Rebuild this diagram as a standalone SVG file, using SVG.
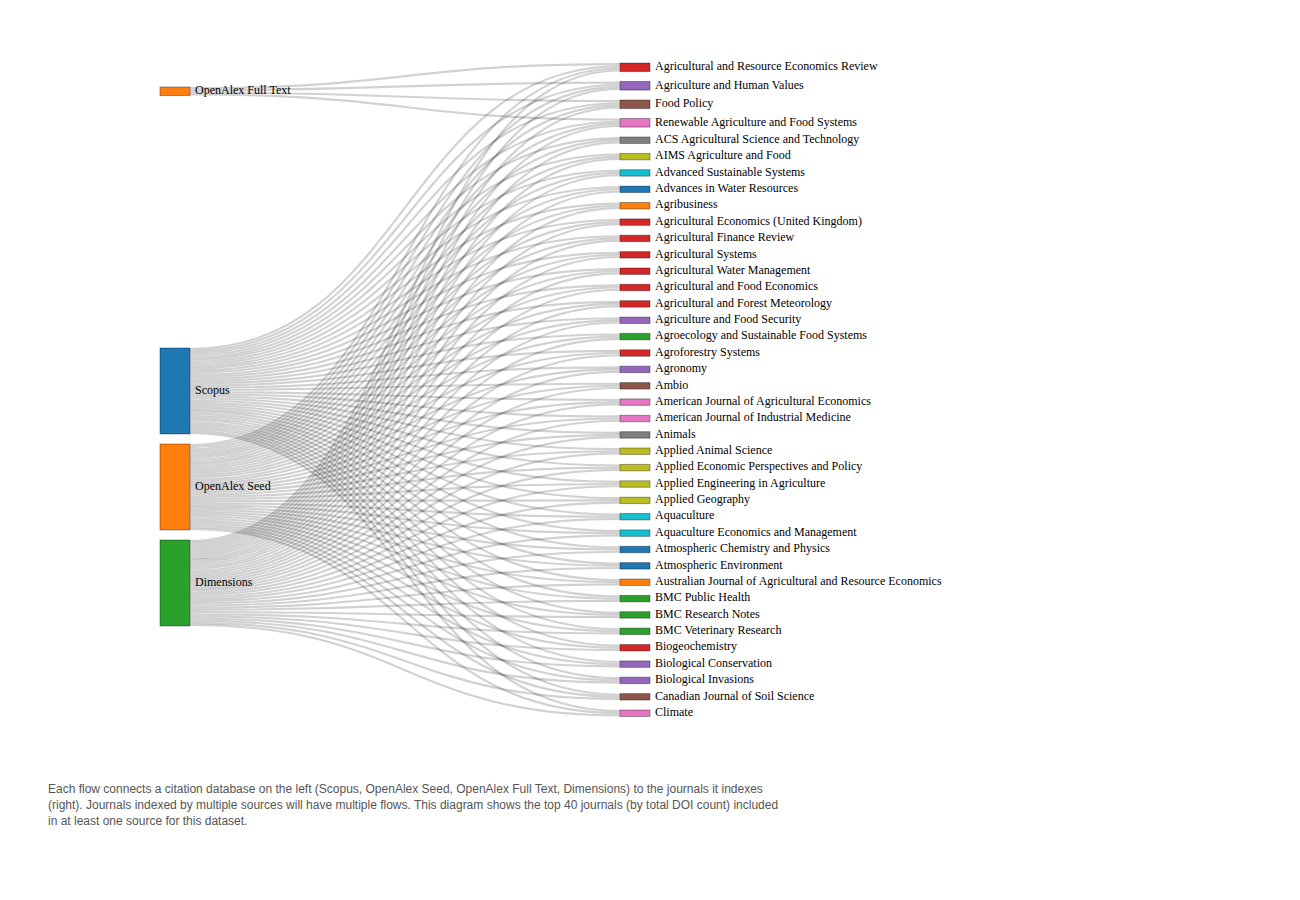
<svg xmlns="http://www.w3.org/2000/svg" width="1300" height="900" viewBox="0 0 1300 900">
<style>
.l{fill:none;stroke:#000;stroke-opacity:.18;stroke-width:2.15}
.n rect{stroke:#000;stroke-opacity:.35;stroke-width:1}
.n text{font-family:"Liberation Serif",serif;font-size:12px;fill:#000;dominant-baseline:middle}
.cap{font-family:"Liberation Sans",Arial,sans-serif;font-size:12px;fill:#555}
.c0{fill:#d62728}.c1{fill:#9467bd}.c2{fill:#8c564b}.c3{fill:#e377c2}.c4{fill:#7f7f7f}.c5{fill:#bcbd22}.c6{fill:#17becf}.c7{fill:#1f77b4}.c8{fill:#ff7f0e}.c9{fill:#2ca02c}
</style>
<rect width="1300" height="900" fill="#fff"/>
<g id="links">
<path class="l" d="M190 88.1C405 88.1 405 64.1 620 64.1"/>
<path class="l" d="M190 90.2C405 90.2 405 82.6 620 82.6"/>
<path class="l" d="M190 92.4C405 92.4 405 101.1 620 101.1"/>
<path class="l" d="M190 94.5C405 94.5 405 119.6 620 119.6"/>
<path class="l" d="M190 349.1C405 349.1 405 66.2 620 66.2"/>
<path class="l" d="M190 351.2C405 351.2 405 84.7 620 84.7"/>
<path class="l" d="M190 353.4C405 353.4 405 103.2 620 103.2"/>
<path class="l" d="M190 355.5C405 355.5 405 121.7 620 121.7"/>
<path class="l" d="M190 357.7C405 357.7 405 138.1 620 138.1"/>
<path class="l" d="M190 359.8C405 359.8 405 154.5 620 154.5"/>
<path class="l" d="M190 362.0C405 362.0 405 170.8 620 170.8"/>
<path class="l" d="M190 364.1C405 364.1 405 187.2 620 187.2"/>
<path class="l" d="M190 366.3C405 366.3 405 203.6 620 203.6"/>
<path class="l" d="M190 368.4C405 368.4 405 220.0 620 220.0"/>
<path class="l" d="M190 370.6C405 370.6 405 236.3 620 236.3"/>
<path class="l" d="M190 372.7C405 372.7 405 252.7 620 252.7"/>
<path class="l" d="M190 374.9C405 374.9 405 269.1 620 269.1"/>
<path class="l" d="M190 377.0C405 377.0 405 285.4 620 285.4"/>
<path class="l" d="M190 379.2C405 379.2 405 301.8 620 301.8"/>
<path class="l" d="M190 381.3C405 381.3 405 318.2 620 318.2"/>
<path class="l" d="M190 383.5C405 383.5 405 334.5 620 334.5"/>
<path class="l" d="M190 385.6C405 385.6 405 350.9 620 350.9"/>
<path class="l" d="M190 387.8C405 387.8 405 367.3 620 367.3"/>
<path class="l" d="M190 389.9C405 389.9 405 383.7 620 383.7"/>
<path class="l" d="M190 392.1C405 392.1 405 400.0 620 400.0"/>
<path class="l" d="M190 394.2C405 394.2 405 416.4 620 416.4"/>
<path class="l" d="M190 396.4C405 396.4 405 432.8 620 432.8"/>
<path class="l" d="M190 398.5C405 398.5 405 449.1 620 449.1"/>
<path class="l" d="M190 400.7C405 400.7 405 465.5 620 465.5"/>
<path class="l" d="M190 402.8C405 402.8 405 481.9 620 481.9"/>
<path class="l" d="M190 405.0C405 405.0 405 498.3 620 498.3"/>
<path class="l" d="M190 407.1C405 407.1 405 514.6 620 514.6"/>
<path class="l" d="M190 409.3C405 409.3 405 531.0 620 531.0"/>
<path class="l" d="M190 411.4C405 411.4 405 547.4 620 547.4"/>
<path class="l" d="M190 413.6C405 413.6 405 563.7 620 563.7"/>
<path class="l" d="M190 415.7C405 415.7 405 580.1 620 580.1"/>
<path class="l" d="M190 417.9C405 417.9 405 596.5 620 596.5"/>
<path class="l" d="M190 420.0C405 420.0 405 612.8 620 612.8"/>
<path class="l" d="M190 422.2C405 422.2 405 629.2 620 629.2"/>
<path class="l" d="M190 424.3C405 424.3 405 645.6 620 645.6"/>
<path class="l" d="M190 426.5C405 426.5 405 662.0 620 662.0"/>
<path class="l" d="M190 428.6C405 428.6 405 678.3 620 678.3"/>
<path class="l" d="M190 430.8C405 430.8 405 694.7 620 694.7"/>
<path class="l" d="M190 432.9C405 432.9 405 711.1 620 711.1"/>
<path class="l" d="M190 445.1C405 445.1 405 68.4 620 68.4"/>
<path class="l" d="M190 447.2C405 447.2 405 86.9 620 86.9"/>
<path class="l" d="M190 449.4C405 449.4 405 105.4 620 105.4"/>
<path class="l" d="M190 451.5C405 451.5 405 123.9 620 123.9"/>
<path class="l" d="M190 453.7C405 453.7 405 140.2 620 140.2"/>
<path class="l" d="M190 455.8C405 455.8 405 156.6 620 156.6"/>
<path class="l" d="M190 458.0C405 458.0 405 172.9 620 172.9"/>
<path class="l" d="M190 460.1C405 460.1 405 189.3 620 189.3"/>
<path class="l" d="M190 462.3C405 462.3 405 205.7 620 205.7"/>
<path class="l" d="M190 464.4C405 464.4 405 222.1 620 222.1"/>
<path class="l" d="M190 466.6C405 466.6 405 238.4 620 238.4"/>
<path class="l" d="M190 468.7C405 468.7 405 254.8 620 254.8"/>
<path class="l" d="M190 470.9C405 470.9 405 271.2 620 271.2"/>
<path class="l" d="M190 473.0C405 473.0 405 287.5 620 287.5"/>
<path class="l" d="M190 475.2C405 475.2 405 303.9 620 303.9"/>
<path class="l" d="M190 477.3C405 477.3 405 320.3 620 320.3"/>
<path class="l" d="M190 479.5C405 479.5 405 336.6 620 336.6"/>
<path class="l" d="M190 481.6C405 481.6 405 353.0 620 353.0"/>
<path class="l" d="M190 483.8C405 483.8 405 369.4 620 369.4"/>
<path class="l" d="M190 485.9C405 485.9 405 385.8 620 385.8"/>
<path class="l" d="M190 488.1C405 488.1 405 402.1 620 402.1"/>
<path class="l" d="M190 490.2C405 490.2 405 418.5 620 418.5"/>
<path class="l" d="M190 492.4C405 492.4 405 434.9 620 434.9"/>
<path class="l" d="M190 494.5C405 494.5 405 451.2 620 451.2"/>
<path class="l" d="M190 496.7C405 496.7 405 467.6 620 467.6"/>
<path class="l" d="M190 498.8C405 498.8 405 484.0 620 484.0"/>
<path class="l" d="M190 501.0C405 501.0 405 500.4 620 500.4"/>
<path class="l" d="M190 503.1C405 503.1 405 516.7 620 516.7"/>
<path class="l" d="M190 505.3C405 505.3 405 533.1 620 533.1"/>
<path class="l" d="M190 507.4C405 507.4 405 549.5 620 549.5"/>
<path class="l" d="M190 509.6C405 509.6 405 565.8 620 565.8"/>
<path class="l" d="M190 511.7C405 511.7 405 582.2 620 582.2"/>
<path class="l" d="M190 513.9C405 513.9 405 598.6 620 598.6"/>
<path class="l" d="M190 516.0C405 516.0 405 614.9 620 614.9"/>
<path class="l" d="M190 518.2C405 518.2 405 631.3 620 631.3"/>
<path class="l" d="M190 520.3C405 520.3 405 647.7 620 647.7"/>
<path class="l" d="M190 522.5C405 522.5 405 664.1 620 664.1"/>
<path class="l" d="M190 524.6C405 524.6 405 680.4 620 680.4"/>
<path class="l" d="M190 526.8C405 526.8 405 696.8 620 696.8"/>
<path class="l" d="M190 528.9C405 528.9 405 713.2 620 713.2"/>
<path class="l" d="M190 541.1C405 541.1 405 70.5 620 70.5"/>
<path class="l" d="M190 543.2C405 543.2 405 89.0 620 89.0"/>
<path class="l" d="M190 545.4C405 545.4 405 107.5 620 107.5"/>
<path class="l" d="M190 547.5C405 547.5 405 126.0 620 126.0"/>
<path class="l" d="M190 549.7C405 549.7 405 142.4 620 142.4"/>
<path class="l" d="M190 551.8C405 551.8 405 158.8 620 158.8"/>
<path class="l" d="M190 554.0C405 554.0 405 175.1 620 175.1"/>
<path class="l" d="M190 556.1C405 556.1 405 191.5 620 191.5"/>
<path class="l" d="M190 558.3C405 558.3 405 207.9 620 207.9"/>
<path class="l" d="M190 560.4C405 560.4 405 224.3 620 224.3"/>
<path class="l" d="M190 562.6C405 562.6 405 240.6 620 240.6"/>
<path class="l" d="M190 564.7C405 564.7 405 257.0 620 257.0"/>
<path class="l" d="M190 566.9C405 566.9 405 273.4 620 273.4"/>
<path class="l" d="M190 569.0C405 569.0 405 289.7 620 289.7"/>
<path class="l" d="M190 571.2C405 571.2 405 306.1 620 306.1"/>
<path class="l" d="M190 573.3C405 573.3 405 322.5 620 322.5"/>
<path class="l" d="M190 575.5C405 575.5 405 338.8 620 338.8"/>
<path class="l" d="M190 577.6C405 577.6 405 355.2 620 355.2"/>
<path class="l" d="M190 579.8C405 579.8 405 371.6 620 371.6"/>
<path class="l" d="M190 581.9C405 581.9 405 388.0 620 388.0"/>
<path class="l" d="M190 584.1C405 584.1 405 404.3 620 404.3"/>
<path class="l" d="M190 586.2C405 586.2 405 420.7 620 420.7"/>
<path class="l" d="M190 588.4C405 588.4 405 437.1 620 437.1"/>
<path class="l" d="M190 590.5C405 590.5 405 453.4 620 453.4"/>
<path class="l" d="M190 592.7C405 592.7 405 469.8 620 469.8"/>
<path class="l" d="M190 594.8C405 594.8 405 486.2 620 486.2"/>
<path class="l" d="M190 597.0C405 597.0 405 502.6 620 502.6"/>
<path class="l" d="M190 599.1C405 599.1 405 518.9 620 518.9"/>
<path class="l" d="M190 601.3C405 601.3 405 535.3 620 535.3"/>
<path class="l" d="M190 603.4C405 603.4 405 551.7 620 551.7"/>
<path class="l" d="M190 605.6C405 605.6 405 568.0 620 568.0"/>
<path class="l" d="M190 607.7C405 607.7 405 584.4 620 584.4"/>
<path class="l" d="M190 609.9C405 609.9 405 600.8 620 600.8"/>
<path class="l" d="M190 612.0C405 612.0 405 617.1 620 617.1"/>
<path class="l" d="M190 614.2C405 614.2 405 633.5 620 633.5"/>
<path class="l" d="M190 616.3C405 616.3 405 649.9 620 649.9"/>
<path class="l" d="M190 618.5C405 618.5 405 666.3 620 666.3"/>
<path class="l" d="M190 620.6C405 620.6 405 682.6 620 682.6"/>
<path class="l" d="M190 622.8C405 622.8 405 699.0 620 699.0"/>
<path class="l" d="M190 624.9C405 624.9 405 715.4 620 715.4"/>
</g>
<g class="n" id="n-ft"><rect class="c8" x="160" y="87" width="30" height="8.6"/><text x="195" y="91.3">OpenAlex Full Text</text></g>
<g class="n" id="n-scopus"><rect class="c7" x="160" y="348" width="30" height="86"/><text x="195" y="391">Scopus</text></g>
<g class="n" id="n-seed"><rect class="c8" x="160" y="444" width="30" height="86"/><text x="195" y="487">OpenAlex Seed</text></g>
<g class="n" id="n-dim"><rect class="c9" x="160" y="540" width="30" height="86"/><text x="195" y="583">Dimensions</text></g>
<g class="n" id="j0"><rect class="c0" x="620" y="63" width="30" height="8.6"/><text x="655" y="67.3">Agricultural and Resource Economics Review</text></g>
<g class="n" id="j1"><rect class="c1" x="620" y="81.5" width="30" height="8.6"/><text x="655" y="85.8">Agriculture and Human Values</text></g>
<g class="n" id="j2"><rect class="c2" x="620" y="100" width="30" height="8.6"/><text x="655" y="104.3">Food Policy</text></g>
<g class="n" id="j3"><rect class="c3" x="620" y="118.5" width="30" height="8.6"/><text x="655" y="122.8">Renewable Agriculture and Food Systems</text></g>
<g class="n" id="j4"><rect class="c4" x="620" y="137.0" width="30" height="6.45"/><text x="655" y="140.2">ACS Agricultural Science and Technology</text></g>
<g class="n" id="j5"><rect class="c5" x="620" y="153.4" width="30" height="6.45"/><text x="655" y="156.6">AIMS Agriculture and Food</text></g>
<g class="n" id="j6"><rect class="c6" x="620" y="169.7" width="30" height="6.45"/><text x="655" y="172.9">Advanced Sustainable Systems</text></g>
<g class="n" id="j7"><rect class="c7" x="620" y="186.1" width="30" height="6.45"/><text x="655" y="189.3">Advances in Water Resources</text></g>
<g class="n" id="j8"><rect class="c8" x="620" y="202.5" width="30" height="6.45"/><text x="655" y="205.7">Agribusiness</text></g>
<g class="n" id="j9"><rect class="c0" x="620" y="218.9" width="30" height="6.45"/><text x="655" y="222.1">Agricultural Economics (United Kingdom)</text></g>
<g class="n" id="j10"><rect class="c0" x="620" y="235.2" width="30" height="6.45"/><text x="655" y="238.4">Agricultural Finance Review</text></g>
<g class="n" id="j11"><rect class="c0" x="620" y="251.6" width="30" height="6.45"/><text x="655" y="254.8">Agricultural Systems</text></g>
<g class="n" id="j12"><rect class="c0" x="620" y="268.0" width="30" height="6.45"/><text x="655" y="271.2">Agricultural Water Management</text></g>
<g class="n" id="j13"><rect class="c0" x="620" y="284.3" width="30" height="6.45"/><text x="655" y="287.5">Agricultural and Food Economics</text></g>
<g class="n" id="j14"><rect class="c0" x="620" y="300.7" width="30" height="6.45"/><text x="655" y="303.9">Agricultural and Forest Meteorology</text></g>
<g class="n" id="j15"><rect class="c1" x="620" y="317.1" width="30" height="6.45"/><text x="655" y="320.3">Agriculture and Food Security</text></g>
<g class="n" id="j16"><rect class="c9" x="620" y="333.4" width="30" height="6.45"/><text x="655" y="336.6">Agroecology and Sustainable Food Systems</text></g>
<g class="n" id="j17"><rect class="c0" x="620" y="349.8" width="30" height="6.45"/><text x="655" y="353.0">Agroforestry Systems</text></g>
<g class="n" id="j18"><rect class="c1" x="620" y="366.2" width="30" height="6.45"/><text x="655" y="369.4">Agronomy</text></g>
<g class="n" id="j19"><rect class="c2" x="620" y="382.6" width="30" height="6.45"/><text x="655" y="385.8">Ambio</text></g>
<g class="n" id="j20"><rect class="c3" x="620" y="398.9" width="30" height="6.45"/><text x="655" y="402.1">American Journal of Agricultural Economics</text></g>
<g class="n" id="j21"><rect class="c3" x="620" y="415.3" width="30" height="6.45"/><text x="655" y="418.5">American Journal of Industrial Medicine</text></g>
<g class="n" id="j22"><rect class="c4" x="620" y="431.7" width="30" height="6.45"/><text x="655" y="434.9">Animals</text></g>
<g class="n" id="j23"><rect class="c5" x="620" y="448.0" width="30" height="6.45"/><text x="655" y="451.2">Applied Animal Science</text></g>
<g class="n" id="j24"><rect class="c5" x="620" y="464.4" width="30" height="6.45"/><text x="655" y="467.6">Applied Economic Perspectives and Policy</text></g>
<g class="n" id="j25"><rect class="c5" x="620" y="480.8" width="30" height="6.45"/><text x="655" y="484.0">Applied Engineering in Agriculture</text></g>
<g class="n" id="j26"><rect class="c5" x="620" y="497.2" width="30" height="6.45"/><text x="655" y="500.4">Applied Geography</text></g>
<g class="n" id="j27"><rect class="c6" x="620" y="513.5" width="30" height="6.45"/><text x="655" y="516.7">Aquaculture</text></g>
<g class="n" id="j28"><rect class="c6" x="620" y="529.9" width="30" height="6.45"/><text x="655" y="533.1">Aquaculture Economics and Management</text></g>
<g class="n" id="j29"><rect class="c7" x="620" y="546.3" width="30" height="6.45"/><text x="655" y="549.5">Atmospheric Chemistry and Physics</text></g>
<g class="n" id="j30"><rect class="c7" x="620" y="562.6" width="30" height="6.45"/><text x="655" y="565.8">Atmospheric Environment</text></g>
<g class="n" id="j31"><rect class="c8" x="620" y="579.0" width="30" height="6.45"/><text x="655" y="582.2">Australian Journal of Agricultural and Resource Economics</text></g>
<g class="n" id="j32"><rect class="c9" x="620" y="595.4" width="30" height="6.45"/><text x="655" y="598.6">BMC Public Health</text></g>
<g class="n" id="j33"><rect class="c9" x="620" y="611.7" width="30" height="6.45"/><text x="655" y="614.9">BMC Research Notes</text></g>
<g class="n" id="j34"><rect class="c9" x="620" y="628.1" width="30" height="6.45"/><text x="655" y="631.3">BMC Veterinary Research</text></g>
<g class="n" id="j35"><rect class="c0" x="620" y="644.5" width="30" height="6.45"/><text x="655" y="647.7">Biogeochemistry</text></g>
<g class="n" id="j36"><rect class="c1" x="620" y="660.9" width="30" height="6.45"/><text x="655" y="664.1">Biological Conservation</text></g>
<g class="n" id="j37"><rect class="c1" x="620" y="677.2" width="30" height="6.45"/><text x="655" y="680.4">Biological Invasions</text></g>
<g class="n" id="j38"><rect class="c2" x="620" y="693.6" width="30" height="6.45"/><text x="655" y="696.8">Canadian Journal of Soil Science</text></g>
<g class="n" id="j39"><rect class="c3" x="620" y="710.0" width="30" height="6.45"/><text x="655" y="713.2">Climate</text></g>
<g id="caption" class="cap">
<text x="48" y="793">Each flow connects a citation database on the left (Scopus, OpenAlex Seed, OpenAlex Full Text, Dimensions) to the journals it indexes</text>
<text x="48" y="809">(right). Journals indexed by multiple sources will have multiple flows. This diagram shows the top 40 journals (by total DOI count) included</text>
<text x="48" y="825">in at least one source for this dataset.</text>
</g>
</svg>
